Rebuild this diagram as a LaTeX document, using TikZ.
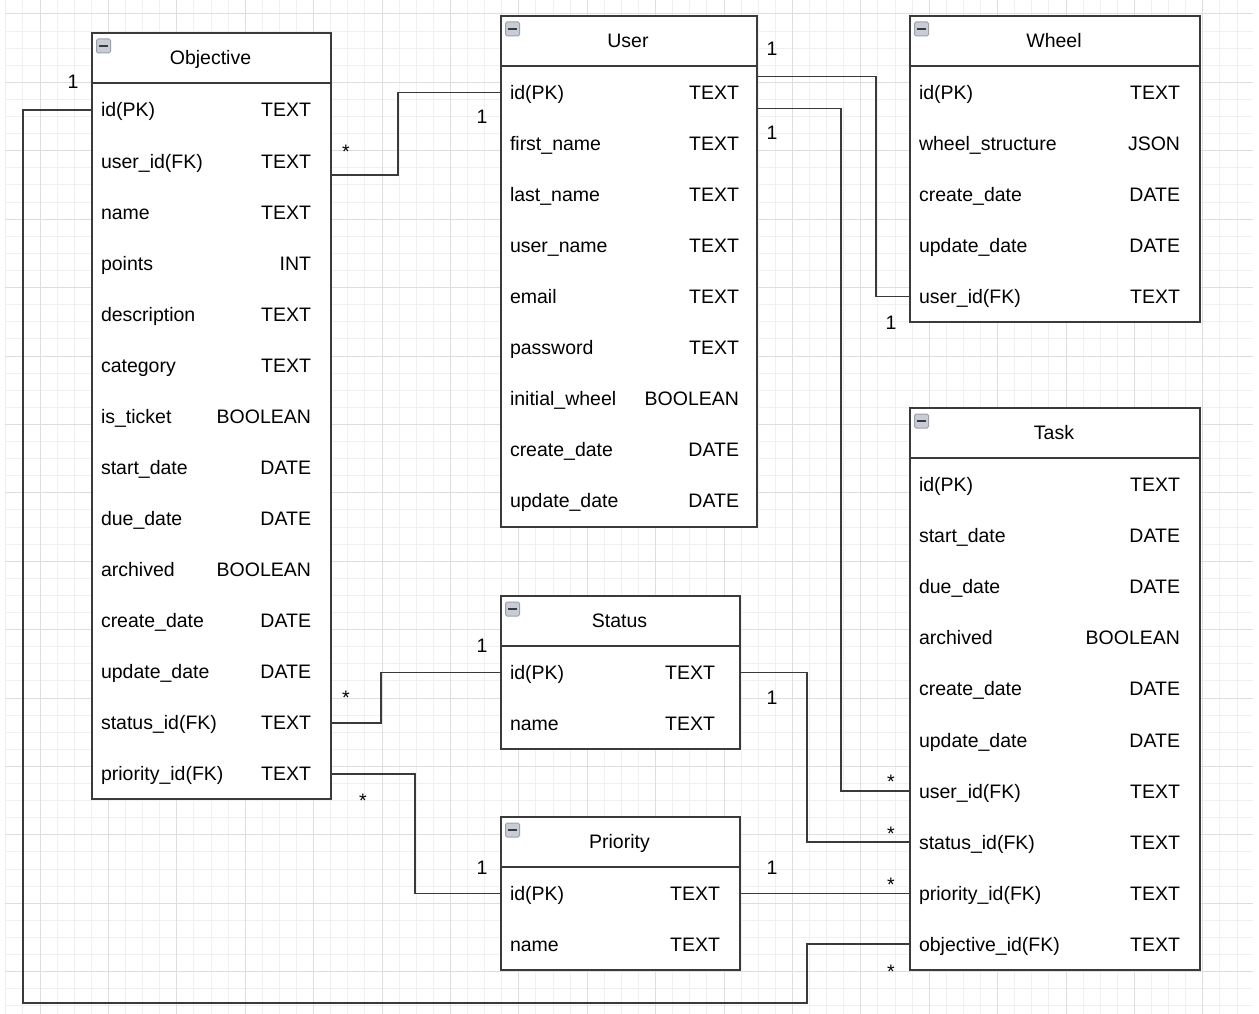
\documentclass[tikz,border=0pt]{standalone}
\usepackage{fontspec}
\setmainfont{Liberation Sans}

\definecolor{edge}{HTML}{3A3A3A}
\definecolor{gridminor}{HTML}{F0F0F0}
\definecolor{gridmajor}{HTML}{DEDEDE}
\definecolor{iconfill}{HTML}{C8CCD6}
\definecolor{iconline}{HTML}{9CA0A8}

\tikzset{
  tbl/.style={draw=edge, line width=2pt, fill=white, anchor=north west, inner sep=0pt},
  title/.style={inner sep=0pt, text height=14pt, text depth=0pt},
  rowcell/.style={inner sep=0pt, minimum height=51pt},
  field/.style={anchor=west, inner sep=0pt, text height=14pt, text depth=0pt},
  ftype/.style={anchor=east, inner sep=0pt, text height=14pt, text depth=0pt},
  conn/.style={draw=edge, line width=1.9pt},
  mult/.style={anchor=base, inner sep=0pt},
  icon/.style={draw=iconline, fill=iconfill, rounded corners=1.5pt, line width=1pt,
    minimum width=14pt, minimum height=14pt, inner sep=0pt,
    path picture={\draw[edge, line width=2.4pt]
      ([xshift=2.5pt]path picture bounding box.west) --
      ([xshift=-2.5pt]path picture bounding box.east);}}
}

\begin{document}
\begin{tikzpicture}[x=1pt, y=-1pt, font=\fontsize{19.5}{23}\selectfont]

\useasboundingbox (0,0) rectangle (1259,1014);
\fill[white] (0,0) rectangle (1259,1014);

% grid
\draw[gridminor, line width=1pt, step=17.1pt, shift={(40,14)}] (-35,-14) grid (1213,1000);
\draw[gridmajor, line width=1pt, step=68.4pt, shift={(40,14)}] (-35,-14) grid (1213,1000);

% Objective
\node[tbl, minimum width=239pt, minimum height=766pt] (obj) at (91,32) {};
\draw[edge, line width=2pt] ([yshift=-51pt]obj.north west) -- ([yshift=-51pt]obj.north east);
\node[icon] (obj-icon) at ([shift={(12.5pt,-14pt)}]obj.north west) {};
\node[title] (obj-head) at (210.5,57.5) {Objective};
\foreach \f/\t [count=\i] in {id(PK)/TEXT, user\_id(FK)/TEXT, name/TEXT, points/INT,
    description/TEXT, category/TEXT, is\_ticket/BOOLEAN, start\_date/DATE, due\_date/DATE,
    archived/BOOLEAN, create\_date/DATE, update\_date/DATE, status\_id(FK)/TEXT,
    priority\_id(FK)/TEXT} {
  \node[rowcell, minimum width=239pt] (obj-\i) at (210.5,{110+51.07*(\i-1)}) {};
  \node[field] at ([xshift=10pt]obj-\i.west) {\f};
  \node[ftype] at ([xshift=-19pt]obj-\i.east) {\t};
}

% User
\node[tbl, minimum width=256pt, minimum height=511pt] (usr) at (500,15) {};
\draw[edge, line width=2pt] ([yshift=-51pt]usr.north west) -- ([yshift=-51pt]usr.north east);
\node[icon] (usr-icon) at ([shift={(12.5pt,-14pt)}]usr.north west) {};
\node[title] (usr-head) at (628,40.5) {User};
\foreach \f/\t [count=\i] in {id(PK)/TEXT, first\_name/TEXT, last\_name/TEXT,
    user\_name/TEXT, email/TEXT, password/TEXT, initial\_wheel/BOOLEAN,
    create\_date/DATE, update\_date/DATE} {
  \node[rowcell, minimum width=256pt] (usr-\i) at (628,{92.5+51*(\i-1)}) {};
  \node[field] at ([xshift=10pt]usr-\i.west) {\f};
  \node[ftype] at ([xshift=-17pt]usr-\i.east) {\t};
}

% Wheel
\node[tbl, minimum width=290pt, minimum height=306pt] (whl) at (909,15) {};
\draw[edge, line width=2pt] ([yshift=-51pt]whl.north west) -- ([yshift=-51pt]whl.north east);
\node[icon] (whl-icon) at ([shift={(12.5pt,-14pt)}]whl.north west) {};
\node[title] (whl-head) at (1054,40.5) {Wheel};
\foreach \f/\t [count=\i] in {id(PK)/TEXT, wheel\_structure/JSON, create\_date/DATE,
    update\_date/DATE, user\_id(FK)/TEXT} {
  \node[rowcell, minimum width=290pt] (whl-\i) at (1054,{92.5+51*(\i-1)}) {};
  \node[field] at ([xshift=10pt]whl-\i.west) {\f};
  \node[ftype] at ([xshift=-19pt]whl-\i.east) {\t};
}

% Task
\node[tbl, minimum width=290pt, minimum height=562pt] (tsk) at (909,407) {};
\draw[edge, line width=2pt] ([yshift=-51pt]tsk.north west) -- ([yshift=-51pt]tsk.north east);
\node[icon] (tsk-icon) at ([shift={(12.5pt,-14pt)}]tsk.north west) {};
\node[title] (tsk-head) at (1054,432.5) {Task};
\foreach \f/\t [count=\i] in {id(PK)/TEXT, start\_date/DATE, due\_date/DATE,
    archived/BOOLEAN, create\_date/DATE, update\_date/DATE, user\_id(FK)/TEXT,
    status\_id(FK)/TEXT, priority\_id(FK)/TEXT, objective\_id(FK)/TEXT} {
  \node[rowcell, minimum width=290pt] (tsk-\i) at (1054,{484.5+51.1*(\i-1)}) {};
  \node[field] at ([xshift=10pt]tsk-\i.west) {\f};
  \node[ftype] at ([xshift=-19pt]tsk-\i.east) {\t};
}

% Status
\node[tbl, minimum width=239pt, minimum height=153pt] (sts) at (500,595) {};
\draw[edge, line width=2pt] ([yshift=-51pt]sts.north west) -- ([yshift=-51pt]sts.north east);
\node[icon] (sts-icon) at ([shift={(12.5pt,-14pt)}]sts.north west) {};
\node[title] (sts-head) at (619.5,620.5) {Status};
\foreach \f/\t [count=\i] in {id(PK)/TEXT, name/TEXT} {
  \node[rowcell, minimum width=239pt] (sts-\i) at (619.5,{672.5+51*(\i-1)}) {};
  \node[field] at ([xshift=10pt]sts-\i.west) {\f};
  \node[ftype] at ([xshift=-24pt]sts-\i.east) {\t};
}

% Priority
\node[tbl, minimum width=239pt, minimum height=153pt] (pri) at (500,816) {};
\draw[edge, line width=2pt] ([yshift=-51pt]pri.north west) -- ([yshift=-51pt]pri.north east);
\node[icon] (pri-icon) at ([shift={(12.5pt,-14pt)}]pri.north west) {};
\node[title] (pri-head) at (619.5,841.5) {Priority};
\foreach \f/\t [count=\i] in {id(PK)/TEXT, name/TEXT} {
  \node[rowcell, minimum width=239pt] (pri-\i) at (619.5,{893.5+51*(\i-1)}) {};
  \node[field] at ([xshift=10pt]pri-\i.west) {\f};
  \node[ftype] at ([xshift=-19pt]pri-\i.east) {\t};
}

% relations
\draw[conn] ([yshift=-14pt]obj-2.east) -- ++(68,0) |- (usr-1.west);
\draw[conn] ([yshift=16pt]usr-1.east) -- ++(120,0) |- (whl-5.west);
\draw[conn] ([yshift=-16pt]usr-1.east) -- ++(85,0) |- (tsk-7.west);
\draw[conn] (obj-13.east) -- ++(51,0) |- (sts-1.west);
\draw[conn] (obj-14.east) -- ++(85,0) |- (pri-1.west);
\draw[conn] (sts-1.east) -- ++(68,0) |- (tsk-8.west);
\draw[conn] (pri-1.east) -- (pri-1.east -| tsk-9.west);
\coordinate (back) at (807,1003);
\draw[conn] (obj-1.west) -- ++(-68,0) |- (back) |- (tsk-10.west);

% multiplicities
\node[mult] (m1) at (73,89) {1};
\node[mult] (m2) at (346,159) {*};
\node[mult] (m3) at (482,124) {1};
\node[mult] (m4) at (772,56) {1};
\node[mult] (m5) at (891,329) {1};
\node[mult] (m6) at (772,140) {1};
\node[mult] (m7) at (891,788) {*};
\node[mult] (m8) at (346,704) {*};
\node[mult] (m9) at (482,652) {1};
\node[mult] (m10) at (363,807) {*};
\node[mult] (m11) at (482,874) {1};
\node[mult] (m12) at (772,704) {1};
\node[mult] (m13) at (891,840) {*};
\node[mult] (m14) at (772,874) {1};
\node[mult] (m15) at (891,891) {*};
\node[mult] (m16) at (891,978) {*};

\end{tikzpicture}
\end{document}
